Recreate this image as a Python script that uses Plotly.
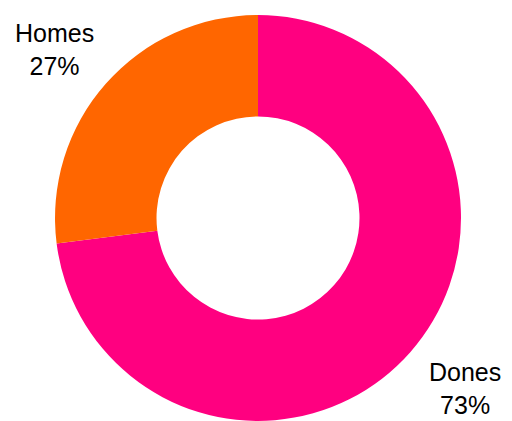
import plotly.graph_objects as go

labels = ["Dones", "Homes"]
values = [73, 27]
colors = ["#FF0080", "#FF6600"]

fig = go.Figure(go.Pie(
    labels=labels,
    values=values,
    hole=0.5,
    sort=False,
    direction="clockwise",
    rotation=0,
    marker=dict(colors=colors, line=dict(width=0)),
    textinfo="none",
    hoverinfo="label+percent",
    domain=dict(x=[0.0933, 0.8988], y=[0.0, 0.9831]),
    showlegend=False,
))

label_pos = {"Homes": (0.0923, 0.9007), "Dones": (0.9077, 0.0799)}
for lab, val in zip(labels, values):
    x, y = label_pos[lab]
    fig.add_annotation(
        x=x, y=y, xref="paper", yref="paper",
        text=f"{lab}<br>{val}%", showarrow=False,
        font=dict(family="Arial, Liberation Sans, sans-serif", size=25, color="#000000"),
        align="center", xanchor="center", yanchor="middle",
    )

fig.update_layout(
    width=504, height=413,
    margin=dict(l=0, r=0, t=0, b=0),
    paper_bgcolor="white", plot_bgcolor="white",
)
fig.write_html("out.html")
